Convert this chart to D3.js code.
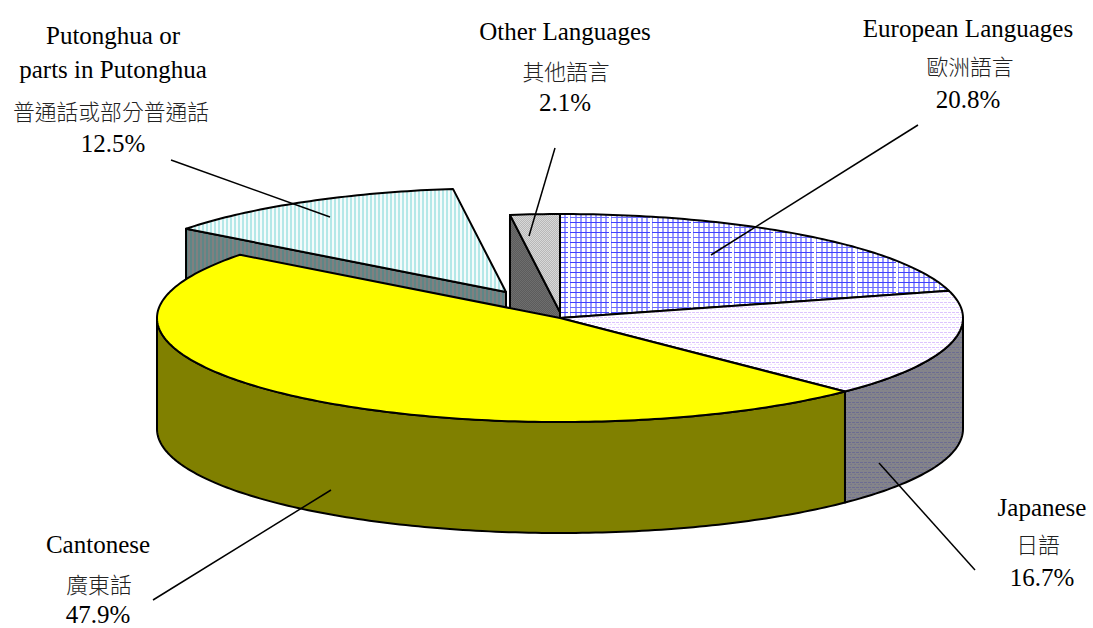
<!DOCTYPE html>
<html>
<head>
<meta charset="utf-8">
<script src="https://cdn.jsdelivr.net/npm/d3@7"></script>
<style>
  html, body { margin: 0; padding: 0; background: #fff; }
  svg { display: block; }
  .en { font-family: "Liberation Serif", serif; font-size: 25px; fill: #000; }
  .zh { font-family: "Noto Sans CJK TC", sans-serif; font-weight: 300; font-size: 21.8px; fill: #222; }
</style>
</head>
<body>
<div id="chart"></div>
<script>
// data, clockwise from 12 o'clock
const categories = ['European Languages', 'Japanese', 'Cantonese', 'Putonghua or parts in Putonghua', 'Other Languages'];
const shares = [20.8, 16.7, 47.9, 12.5, 2.1];
const englishLines = [['European Languages'], ['Japanese'], ['Cantonese'], ['Putonghua or', 'parts in Putonghua'], ['Other Languages']];
const chineseLabels = ['歐洲語言', '日語', '廣東話', '普通話或部分普通話', '其他語言'];
const percentLabels = ['20.8%', '16.7%', '47.9%', '12.5%', '2.1%'];

const width = 1093, height = 628, depth = 111;

const svg = d3.select('#chart').append('svg')
  .attr('width', width)
  .attr('height', height);

// hatch fills
const defs = svg.append('defs');
function pattern(id, w, h, bg) {
  const p = defs.append('pattern')
    .attr('id', id)
    .attr('patternUnits', 'userSpaceOnUse')
    .attr('width', w)
    .attr('height', h);
  p.append('rect').attr('width', w).attr('height', h).attr('fill', bg);
  return p;
}
function bar(p, x, y, w, h, c) {
  p.append('rect').attr('x', x).attr('y', y).attr('width', w).attr('height', h).attr('fill', c);
}

const blue = pattern('blueGrid', 41, 10, '#ffffff');
for (let x = 0; x < 40; x += 5) bar(blue, x + 1, 0, 2, 10, '#9c9cff');
bar(blue, 0, 2, 41, 1, '#4040ff');
bar(blue, 0, 7, 41, 1, '#6c6cff');
bar(blue, 35, 0, 2, 10, '#ffffff');

const lilac = pattern('lilacDots', 4, 5, '#ffffff');
bar(lilac, 0, 2, 3, 1, '#dcc4ff');
bar(lilac, 2, 4, 2, 1, '#eee0ff');

const lilacDark = pattern('lilacWall', 4, 5, '#84848a');
bar(lilacDark, 0, 2, 3, 1, '#6c6c92');
bar(lilacDark, 2, 4, 2, 1, '#77778c');

const cyan = pattern('cyanStripes', 4, 8, '#f4fbfb');
bar(cyan, 0, 0, 2, 8, '#b4e8e8');

const cyanDark = pattern('cyanWall', 4, 8, '#808080');
bar(cyanDark, 0, 0, 2, 8, '#5e8686');

const grey = pattern('greyCheck', 2, 2, '#d8d8d8');
bar(grey, 0, 0, 1, 1, '#b8b8b8');
bar(grey, 1, 1, 1, 1, '#b8b8b8');

const greyDark = pattern('greyWall', 2, 2, '#6e6e6e');
bar(greyDark, 0, 0, 1, 1, '#5c5c5c');
bar(greyDark, 1, 1, 1, 1, '#5c5c5c');

const topFills = ['url(#blueGrid)', 'url(#lilacDots)', '#ffff00', 'url(#cyanStripes)', 'url(#greyCheck)'];
const wallFills = ['#808080', 'url(#lilacWall)', '#808000', 'url(#cyanWall)', 'url(#greyWall)'];
const offsets = [[0, 0], [0, 0], [0, 0], [-54, -26], [3, 0]];

// the top of the pie is an ellipse, so the unit circle goes through two scales
const xScale = d3.scaleLinear().domain([-1, 1]).range([157, 963]);
const yScale = d3.scaleLinear().domain([-1, 1]).range([214, 422]);

const arcs = d3.pie().sort(null).startAngle(0).endAngle(2 * Math.PI)(shares);

const rim = (a, dy) => [xScale(Math.sin(a)), yScale(-Math.cos(a)) + (dy || 0)];
const apex = (dy) => [xScale(0), yScale(0) + (dy || 0)];
const line = d3.line();

function rimPoints(a0, a1, dy) {
  const pts = [];
  const n = Math.max(2, Math.ceil((a1 - a0) * 60));
  for (let i = 0; i <= n; i++) pts.push(rim(a0 + (a1 - a0) * i / n, dy));
  return pts;
}

function shape(g, pts, fill) {
  g.append('path')
    .attr('d', line(pts) + 'Z')
    .attr('fill', fill)
    .attr('stroke', '#000')
    .attr('stroke-width', 2)
    .attr('stroke-linejoin', 'round');
}

// painter's order, back slices first
[4, 3, 0, 1, 2].forEach(i => {
  const d = arcs[i];
  const g = svg.append('g')
    .attr('class', 'slice')
    .attr('data-name', categories[i])
    .attr('transform', `translate(${offsets[i][0]},${offsets[i][1]})`);

  // outer wall, only the front half of the rim shows
  const a0 = Math.max(d.startAngle, Math.PI / 2);
  const a1 = Math.min(d.endAngle, 3 * Math.PI / 2);
  if (a0 < a1) {
    shape(g, rimPoints(a0, a1).concat(rimPoints(a0, a1, depth).reverse()), wallFills[i]);
  }
  // cut faces of the two back slices
  if (i >= 3) {
    shape(g, [rim(d.startAngle), apex(), apex(depth), rim(d.startAngle, depth)], wallFills[i]);
  }
  shape(g, [apex()].concat(rimPoints(d.startAngle, d.endAngle)), topFills[i]);
});

// label and leader positions
const labelLayout = [
  { x: 968, en: [37], zh: 75, pct: 108, zx: 970 },
  { x: 1042, en: [516], zh: 553, pct: 586, zx: 1038 },
  { x: 98, en: [553], zh: 593, pct: 623, zx: 99 },
  { x: 113, en: [44, 78], zh: 120, pct: 152, zx: 111 },
  { x: 565, en: [40], zh: 80, pct: 111, zx: 566 }
];
const leaders = [
  [[918, 125], [711, 255]],
  [[975, 570], [879, 463]],
  [[153, 600], [331, 490]],
  [[171, 160], [330, 217]],
  [[555, 148], [529, 236]]
];

svg.selectAll('.leader')
  .data(leaders)
  .enter()
  .append('path')
  .attr('class', 'leader')
  .attr('d', d => line(d))
  .attr('fill', 'none')
  .attr('stroke', '#000')
  .attr('stroke-width', 1.5);

categories.forEach((c, i) => {
  const l = labelLayout[i];
  englishLines[i].forEach((t, j) => {
    svg.append('text').attr('class', 'en')
      .attr('x', l.x).attr('y', l.en[j])
      .attr('text-anchor', 'middle').text(t);
  });
  svg.append('text').attr('class', 'zh')
    .attr('x', l.zx).attr('y', l.zh)
    .attr('text-anchor', 'middle').text(chineseLabels[i]);
  svg.append('text').attr('class', 'en')
    .attr('x', l.x).attr('y', l.pct)
    .attr('text-anchor', 'middle').text(percentLabels[i]);
});
</script>
</body>
</html>
